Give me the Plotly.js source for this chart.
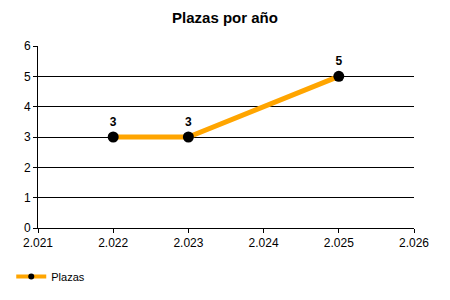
<!DOCTYPE html>
<html><head><meta charset="utf-8">
<script src="https://cdn.plot.ly/plotly-3.0.1.min.js"></script>
<style>body{margin:0;padding:0;background:#fff}#c{width:450px;height:300px}</style>
</head><body><div id="c"></div>
<script>
const years = [2022, 2023, 2025];
const plazas = [3, 3, 5];
const seriesName = "Plazas";
const chartTitle = "Plazas por año";

const FONT = 'Liberation Sans, Arial, sans-serif';
const trace = {
  x: years, y: plazas, name: seriesName, showlegend: false,
  type: 'scatter', mode: 'lines+markers+text',
  line: {color: '#FFA500', width: 5},
  marker: {color: '#000', size: 11},
  text: plazas.map(String), textposition: 'top center',
  textfont: {family: FONT, size: 12, color: '#000', weight: 'bold'},
  cliponaxis: false
};
// legend entry with the small marker used by the original legend
const legendTrace = {
  x: [null], y: [null], name: seriesName, showlegend: true,
  type: 'scatter', mode: 'lines+markers',
  line: {color: '#FFA500', width: 4},
  marker: {color: '#000', size: 6}
};
const layout = {
  width: 450, height: 300,
  margin: {l: 37.5, r: 36, t: 46, b: 72, pad: 0},
  paper_bgcolor: '#fff', plot_bgcolor: '#fff',
  separators: ',.',
  font: {family: FONT, size: 12, color: '#000'},
  title: {text: '<b>' + chartTitle + '</b>', x: 0.5, xanchor: 'center', y: 1, yref: 'container', yanchor: 'top', pad: {t: 12},
          font: {family: FONT, size: 15, color: '#000'}},
  xaxis: {range: [2021, 2026], dtick: 1, tick0: 2021, tickformat: ',d', showgrid: false, zeroline: false,
          showline: true, linecolor: '#000', linewidth: 1, ticks: 'outside', ticklen: 4, tickcolor: '#000',
          tickfont: {size: 12, color: '#000'}},
  yaxis: {range: [0, 6], dtick: 1, showgrid: true, gridcolor: '#000', gridwidth: 1, zeroline: false,
          showline: true, linecolor: '#000', linewidth: 1, ticks: 'outside', ticklen: 4, tickcolor: '#000',
          tickfont: {size: 12, color: '#000'}},
  showlegend: true,
  legend: {orientation: 'h', xref: 'container', yref: 'container', x: 0.025, y: 0.03, xanchor: 'left', yanchor: 'bottom',
           font: {size: 11, color: '#000'}, itemwidth: 30}
};
Plotly.newPlot('c', [trace, legendTrace], layout, {displayModeBar: false, staticPlot: true});
</script></body></html>
